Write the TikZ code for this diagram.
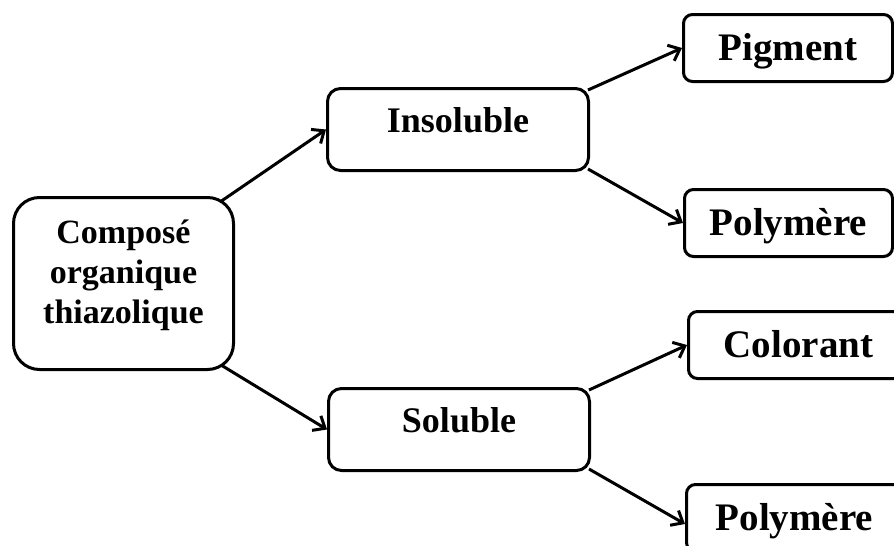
\documentclass[tikz,border=0pt]{standalone}
\usepackage{fontspec}
\setmainfont{Liberation Serif}
\usetikzlibrary{arrows.meta}
\begin{document}
\begin{tikzpicture}[x=1pt,y=-1pt,
  boxbase/.style={draw, line width=3pt, inner sep=0pt, anchor=north west, fill=white},
  boxleft/.style={boxbase, rounded corners=26pt},
  boxmid/.style={boxbase, rounded corners=13pt, minimum width=261pt, text height=44pt, text depth=38pt, font=\bfseries\fontsize{36}{40}\selectfont},
  boxright/.style={boxbase, rounded corners=9pt, text height=46pt, text depth=21pt, font=\bfseries\fontsize{39}{44}\selectfont},
  lefttext/.style={align=center, inner sep=0pt, font=\bfseries\fontsize{34}{40}\selectfont},
  arr/.style={line width=3pt, -{Straight Barb[length=10pt,width=17pt]}}
]
\fill[white] (0,0) rectangle (894,546);
\useasboundingbox (0,0) rectangle (894,546);

\node[boxleft, minimum width=220pt, minimum height=172pt] (comp) at (12,196) {};
\node[lefttext] (comptext) at ([yshift=8pt]comp.center) {Composé\\organique\\thiazolique};

\node[boxmid] (ins) at (326,87) {Insoluble};
\node[boxmid] (sol) at (327,387) {Soluble};

\node[boxright, minimum width=209pt] (pig) at (682,13) {Pigment};
\node[boxright, minimum width=208pt] (poly1) at (683,188) {Polymère};
\node[boxright, minimum width=220pt] (col) at (687,310) {Colorant};
\node[boxright, minimum width=216pt] (poly2) at (685,483) {Polymère};

\draw[arr] ([xshift=-15pt,yshift=-6pt]comp.north east) -- (ins.west);
\draw[arr] ([xshift=-14pt,yshift=6pt]comp.south east) -- (sol.west);
\draw[arr] ([xshift=-2pt,yshift=-3pt]ins.north east) -- (pig.west);
\draw[arr] ([xshift=-2pt,yshift=3pt]ins.south east) -- (poly1.west);
\draw[arr] ([xshift=-2pt,yshift=-3pt]sol.north east) -- (col.west);
\draw[arr] ([xshift=-2pt,yshift=3pt]sol.south east) -- ([yshift=-6pt]poly2.west);
\end{tikzpicture}
\end{document}
